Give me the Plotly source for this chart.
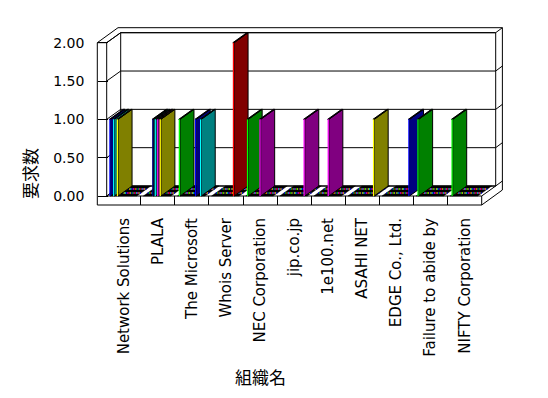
import plotly.graph_objects as go

# ---------------- data ----------------
categories = ["Network Solutions", "PLALA", "The Microsoft", "Whois Server",
              "NEC Corporation", "jip.co.jp", "1e100.net", "ASAHI NET",
              "EDGE Co., Ltd.", "Failure to abide by", "NIFTY Corporation"]
y_tick_vals = [0, 0.5, 1.0, 1.5, 2.0]
y_tick_text = ["0.00", "0.50", "1.00", "1.50", "2.00"]
y_title = "要求数"
x_title = "組織名"

# one list per series (values per category, in category order)
s01 = [1, 0, 0, 0, 0, 0, 0, 0, 0, 0, 0]
s02 = [0, 0, 1, 0, 1, 0, 0, 0, 0, 1, 1]
s03 = [0, 0, 0, 0, 0, 0, 0, 0, 0, 0, 0]
s04 = [1, 0, 0, 0, 0, 0, 0, 0, 0, 0, 0]
s05 = [0, 0, 0, 0, 0, 0, 0, 0, 0, 0, 0]
s06 = [0, 0, 0, 0, 0, 0, 0, 0, 0, 0, 0]
s07 = [1, 0, 0, 0, 0, 0, 0, 0, 0, 0, 0]
s08 = [0, 1, 0, 0, 0, 0, 0, 0, 0, 0, 0]
s09 = [0, 0, 0, 0, 0, 0, 0, 0, 0, 0, 0]
s10 = [0, 1, 0, 0, 0, 0, 0, 0, 0, 0, 0]
s11 = [0, 0, 0, 0, 0, 0, 0, 0, 0, 0, 0]
s12 = [0, 1, 0, 0, 1, 0, 1, 0, 0, 0, 0]
s13 = [0, 0, 0, 0, 0, 0, 0, 0, 0, 0, 0]
s14 = [0, 1, 0, 0, 0, 0, 0, 0, 0, 0, 0]
s15 = [0, 0, 1, 0, 0, 0, 0, 0, 0, 0, 0]
s16 = [0, 0, 0, 0, 0, 0, 0, 0, 0, 0, 0]
s17 = [0, 0, 0, 0, 0, 0, 0, 0, 0, 0, 0]
s18 = [0, 0, 0, 2, 0, 0, 0, 0, 0, 0, 0]
s19 = [0, 0, 1, 0, 0, 0, 0, 0, 0, 0, 0]
s20 = [0, 0, 0, 0, 0, 1, 0, 0, 0, 0, 0]
s21 = [0, 0, 0, 0, 0, 0, 0, 1, 0, 0, 0]
s22 = [0, 0, 0, 0, 0, 0, 0, 0, 1, 0, 0]
series = [s01, s02, s03, s04, s05, s06, s07, s08, s09, s10, s11,
          s12, s13, s14, s15, s16, s17, s18, s19, s20, s21, s22]

# front (lit) colour and side (shaded) colour of each series
front_colors = ["#0000FF", "#00FF00", "#FF0000", "#00FFFF", "#FF00FF", "#00FF00",
                "#FFFF00", "#000080", "#FFFF00", "#00FFFF", "#0000FF", "#FF00FF",
                "#FF0000", "#FFFF00", "#0000FF", "#00FF00", "#FF00FF", "#FF0000",
                "#00FFFF", "#FF00FF", "#FFFF00", "#0000FF"]
shade = {"#0000FF": "#000080", "#00FF00": "#008000", "#FF0000": "#800000",
         "#00FFFF": "#008080", "#FF00FF": "#800080", "#FFFF00": "#808000",
         "#000080": "#000000"}

# ---------------- geometry of the pseudo-3D frame ----------------
W, H = 548, 398
PX_X0, CAT_PX = 106.7, 34.09     # pixel x of category 0 start, pixels per category
PX_Y0, VAL_PX = 196.0, 76.65     # pixel y of value 0, pixels per unit
NC = len(categories)
YMAX = 2.0
DX, DY = 14 / CAT_PX, 10 / VAL_PX       # depth vector
TX, TY = 6.7 / CAT_PX, 5 / VAL_PX       # back wall thickness
XL = -9.4 / CAT_PX                      # outer face of left wall
S = 9 / VAL_PX                          # floor thickness
GS, SW = 2.6 / CAT_PX, 1.25 / CAT_PX    # group start and slot width

fig = go.Figure()

lx, ly = [], []
def poly(*pts):
    for p in pts:
        lx.append(p[0]); ly.append(p[1])
    lx.append(None); ly.append(None)

poly((XL, -S), (XL, YMAX), (0, YMAX), (0, 0))
poly((XL, -S), (NC, -S), (NC, 0), (0, 0))
poly((NC, 0), (NC + DX, DY))
poly((NC, -S), (NC + DX + TX, -S + DY + TY), (NC + DX + TX, YMAX + DY + TY),
     (XL + DX + TX, YMAX + DY + TY), (XL, YMAX))
poly((0, YMAX), (DX, YMAX + DY))
poly((DX, DY), (NC + DX, DY), (NC + DX, YMAX + DY), (DX, YMAX + DY), (DX, DY))
poly((0, 0), (DX, DY))
for v in y_tick_vals:
    poly((0, v), (DX, v + DY), (NC + DX, v + DY), (NC + DX + TX, v + DY + TY))

fig.add_trace(go.Scatter(x=lx, y=ly, mode="lines", line=dict(color="black", width=1),
                         hoverinfo="skip"))

# zero-height boxes (flat tops on the floor) merged into runs
zx, zy, dxs, dys, dcs = [], [], [], [], []
for c in range(NC):
    k = 0
    nser = len(series)
    while k < nser:
        if series[k][c] == 0:
            k0 = k
            while k < nser and series[k][c] == 0:
                xm = c + GS + SW * (k + 0.5)
                for t in (0.3, 0.7):
                    dxs.append(xm + t * DX); dys.append(t * DY); dcs.append(front_colors[k])
                k += 1
            a = c + GS + SW * k0
            b = c + GS + SW * k
            zx += [a, b, b + DX, a + DX, a, None]
            zy += [0, 0, DY, DY, 0, None]
        else:
            k += 1
fig.add_trace(go.Scatter(x=zx, y=zy, mode="lines", fill="toself", fillcolor="black",
                         line=dict(color="black", width=0.5), hoverinfo="skip"))
fig.add_trace(go.Scatter(x=dxs, y=dys, mode="markers",
                         marker=dict(size=1.6, color=dcs, line=dict(width=0)),
                         hoverinfo="skip"))

# bars, drawn left to right
for c in range(NC):
    for k, vals in enumerate(series):
        v = vals[c]
        if v <= 0:
            continue
        x0 = c + GS + SW * k
        x1 = x0 + SW
        fc = front_colors[k]
        sc = shade[fc]
        fig.add_trace(go.Scatter(
            x=[x1, x1 + DX, x1 + DX, x1, x1, None, x0, x1, x1 + DX, x0 + DX, x0],
            y=[0, DY, v + DY, v, 0, None, v, v, v + DY, v + DY, v],
            mode="lines", fill="toself", fillcolor=sc,
            line=dict(color="black", width=1), hoverinfo="skip"))
        fig.add_trace(go.Scatter(
            x=[x0, x1, x1, x0, x0], y=[0, 0, v, v, 0],
            mode="lines", fill="toself", fillcolor=fc,
            line=dict(color=fc, width=0), hoverinfo="skip"))

fig.update_layout(
    width=W, height=H, margin=dict(l=0, r=0, t=0, b=0),
    paper_bgcolor="white", plot_bgcolor="white", showlegend=False,
    font=dict(family="DejaVu Sans", color="black"),
    xaxis=dict(range=[-PX_X0 / CAT_PX, (W - PX_X0) / CAT_PX], anchor="free",
               position=(H - 205) / H, showgrid=False, zeroline=False, showline=False,
               tickmode="array", tickvals=[i + 0.5 for i in range(NC)],
               ticktext=categories, tickangle=-90, ticks="",
               tickfont=dict(family="DejaVu Sans", size=15, color="black"),
               ticklabelstandoff=9,
               minor=dict(tickmode="array", tickvals=list(range(1, NC)), ticks="inside",
                          ticklen=9, tickcolor="black", tickwidth=1, showgrid=False),
               fixedrange=True, automargin=False),
    yaxis=dict(range=[(PX_Y0 - H) / VAL_PX, PX_Y0 / VAL_PX], anchor="free",
               position=97.3 / W, showgrid=False, zeroline=False, showline=False,
               tickmode="array", tickvals=y_tick_vals, ticktext=y_tick_text,
               ticks="inside", ticklen=9.4, tickcolor="black", tickwidth=1,
               tickfont=dict(family="DejaVu Sans", size=14, color="black"),
               ticklabelstandoff=13, fixedrange=True, automargin=False),
    annotations=[
        dict(text=y_title, x=29 / W, y=(H - 174) / H, xref="paper", yref="paper",
             showarrow=False, textangle=-90, xanchor="center", yanchor="middle",
             font=dict(family="Noto Sans CJK JP", size=17, color="black")),
        dict(text=x_title, x=260 / W, y=(H - 376) / H, xref="paper", yref="paper",
             showarrow=False, xanchor="center", yanchor="middle",
             font=dict(family="Noto Sans CJK JP", size=17, color="black")),
    ],
)

fig.write_html("out.html", config={"displayModeBar": False, "staticPlot": True},
               post_script="document.body.style.margin='0';document.body.style.overflow='hidden';")
